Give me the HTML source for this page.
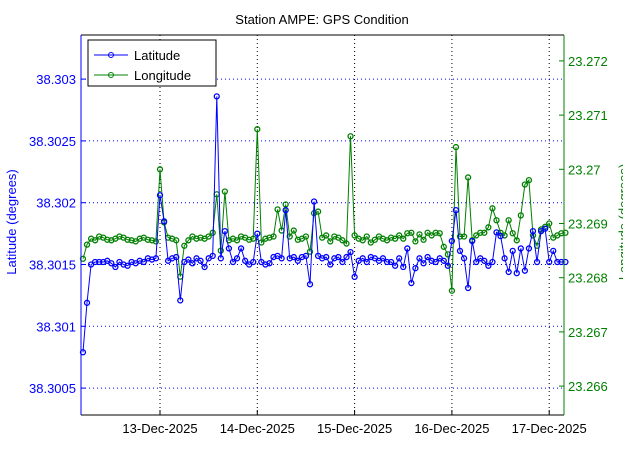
<!DOCTYPE html>
<html><head><meta charset="utf-8"><style>
body{margin:0;background:#fff;overflow:hidden;}
svg{display:block;font-family:"Liberation Sans",sans-serif;}
</style></head><body>
<svg id="chart" width="623" height="466" xmlns="http://www.w3.org/2000/svg">
<rect x="0" y="0" width="623" height="466" fill="#fff"/>
<text x="322" y="24" font-size="13" text-anchor="middle">Station AMPE: GPS Condition</text>
<g id="grid"></g>
<g id="series"></g>
<g id="axes"></g>
<text transform="translate(16,222) rotate(-90)" font-size="13" fill="#0000ff" text-anchor="middle">Latitude (degrees)</text>
<text transform="translate(628,222) rotate(-90)" font-size="13" fill="#008000" text-anchor="middle">Longitude (degrees)</text>
<g>
<rect x="88" y="40" width="128" height="46" fill="#fff" stroke="#000" stroke-width="1"/>
<line x1="94" y1="55" x2="128" y2="55" stroke="#0000ff"/><circle cx="111" cy="55" r="2.5" fill="none" stroke="#0000ff"/>
<text x="134" y="60" font-size="13">Latitude</text>
<line x1="94" y1="75" x2="128" y2="75" stroke="#008000"/><circle cx="111" cy="75" r="2.5" fill="none" stroke="#008000"/>
<text x="134" y="80" font-size="13">Longitude</text>
</g>
</svg>
<script>
const hourStart = -19; // hours relative to 13-Dec-2025 00:00, hourly samples
const latValues = [38.30079,38.30119,38.30150,38.30152,38.30152,38.30152,38.30153,38.30151,38.30148,38.30152,38.30150,38.30149,38.30152,38.30151,38.30153,38.30152,38.30155,38.30154,38.30155,
38.30206,38.30185,38.30153,38.30155,38.30156,38.30121,38.30152,38.30154,38.30151,38.30155,38.30153,38.30148,38.30155,38.30157,38.30286,38.30155,38.30177,38.30163,38.30152,38.30155,38.30163,38.30153,38.30150,38.30152,
38.30175,38.30152,38.30150,38.30151,38.30156,38.30157,38.30155,38.30194,38.30155,38.30156,38.30153,38.30156,38.30157,38.30134,38.30201,38.30157,38.30155,38.30156,38.30150,38.30155,38.30156,38.30152,38.30156,38.30160,
38.30140,38.30153,38.30155,38.30152,38.30156,38.30155,38.30153,38.30155,38.30152,38.30152,38.30149,38.30155,38.30148,38.30163,38.30135,38.30147,38.30155,38.30151,38.30156,38.30153,38.30152,38.30155,38.30153,38.30149,
38.30169,38.30194,38.30161,38.30155,38.30131,38.30169,38.30152,38.30155,38.30153,38.30149,38.30152,38.30176,38.30173,38.30155,38.30144,38.30161,38.30143,38.30163,38.30145,38.30163,38.30177,38.30152,38.30177,38.30179,
38.30152,38.30161,38.30152,38.30152,38.30152];
const lonValues = [23.26835,23.26861,23.26872,23.26869,23.26876,23.26874,23.26870,23.26869,23.26872,23.26876,23.26874,23.26870,23.26869,23.26867,23.26872,23.26874,23.26870,23.26869,23.26867,
23.27000,23.26902,23.26874,23.26872,23.26869,23.26802,23.26859,23.26869,23.26876,23.26872,23.26874,23.26872,23.26876,23.26883,23.26954,23.26850,23.26959,23.26869,23.26872,23.26869,23.26876,23.26874,23.26870,23.26872,
23.27074,23.26865,23.26872,23.26874,23.26876,23.26926,23.26887,23.26935,23.26876,23.26887,23.26870,23.26872,23.26876,23.26848,23.26919,23.26922,23.26874,23.26878,23.26867,23.26876,23.26874,23.26869,23.26863,23.27061,
23.26878,23.26872,23.26869,23.26876,23.26865,23.26870,23.26876,23.26872,23.26869,23.26874,23.26872,23.26878,23.26872,23.26882,23.26883,23.26867,23.26880,23.26870,23.26883,23.26878,23.26883,23.26882,23.26857,23.26843,
23.26776,23.27041,23.26876,23.26876,23.26985,23.26869,23.26878,23.26883,23.26883,23.26893,23.26928,23.26906,23.26883,23.26878,23.26906,23.26882,23.26869,23.26915,23.26972,23.26980,23.26878,23.26859,23.26889,23.26894,
23.26900,23.26874,23.26878,23.26882,23.26883];
const latTicks = [38.3005,38.301,38.3015,38.302,38.3025,38.303];
const latTickLabels = ["38.3005","38.301","38.3015","38.302","38.3025","38.303"];
const lonTicks = [23.266,23.267,23.268,23.269,23.27,23.271,23.272];
const lonTickLabels = ["23.266","23.267","23.268","23.269","23.27","23.271","23.272"];
const dayTicks = [0,24,48,72,96];
const dayTickLabels = ["13-Dec-2025","14-Dec-2025","15-Dec-2025","16-Dec-2025","17-Dec-2025"];

const X0=81,X1=564,Y0=35,Y1=415;
const xS = h => 160 + h*97.3/24;
const yLat = v => 264.5 - (v-38.3015)/0.0005*61.8;
const yLon = v => 223.5 - (v-23.269)/0.001*54.2;
const NS="http://www.w3.org/2000/svg";
function mk(tag, attrs, parent){const e=document.createElementNS(NS,tag);for(const k in attrs)e.setAttribute(k,attrs[k]);parent.appendChild(e);return e;}
const grid=document.getElementById('grid'), series=document.getElementById('series'), axes=document.getElementById('axes');

dayTicks.forEach((h,i)=>{
  const x=xS(h);
  const g=mk('line',{x1:x,y1:Y0,x2:x,y2:Y1,stroke:'#000','stroke-dasharray':'1,3'},grid);
  
  
  mk('line',{x1:x,y1:Y1,x2:x,y2:Y1-5,stroke:'#000'},axes);
  const t=mk('text',{x:x,y:Y1+18,'font-size':13,'text-anchor':'middle'},axes);
  t.textContent=dayTickLabels[i];
  
  
});
latTicks.forEach((v,i)=>{
  const y=yLat(v);
  const g=mk('line',{x1:X0,y1:y,x2:X1,y2:y,stroke:'#0000ff','stroke-dasharray':'1,3'},grid);
  
  
  mk('line',{x1:X0,y1:y,x2:X0+5,y2:y,stroke:'#0000ff'},axes);
  const t=mk('text',{x:X0-5,y:y+5,'font-size':13,'text-anchor':'end',fill:'#0000ff'},axes);
  t.textContent=latTickLabels[i];
  
  
});
lonTicks.forEach((v,i)=>{
  const y=yLon(v);
  mk('line',{x1:X1,y1:y,x2:X1-5,y2:y,stroke:'#008000'},axes);
  const t=mk('text',{x:X1+4,y:y+5,'font-size':13,fill:'#008000'},axes);
  t.textContent=lonTickLabels[i];
  
  
});
mk('line',{x1:X0,y1:Y0,x2:X1,y2:Y0,stroke:'#000'},axes);
mk('line',{x1:X0,y1:Y1,x2:X1,y2:Y1,stroke:'#000'},axes);
mk('line',{x1:X0,y1:Y0,x2:X0,y2:Y1,stroke:'#0000ff'},axes);
mk('line',{x1:X1,y1:Y0,x2:X1,y2:Y1,stroke:'#008000'},axes);

function drawSeries(vals, yf, color, name){
  const pts=vals.map((v,i)=>[xS(hourStart+i), yf(v)]);
  const pl=mk('polyline',{points:pts.map(p=>p[0].toFixed(1)+','+p[1].toFixed(1)).join(' '),fill:'none',stroke:color,'stroke-width':1},series);
  
  
  pts.forEach(p=>{
    const c=mk('circle',{cx:p[0],cy:p[1],r:2.5,fill:'none',stroke:color,'stroke-width':1.3},series);
    
    
  });
}
drawSeries(lonValues, yLon, '#008000', 'longitude');
drawSeries(latValues, yLat, '#0000ff', 'latitude');
</script>
</body></html>
